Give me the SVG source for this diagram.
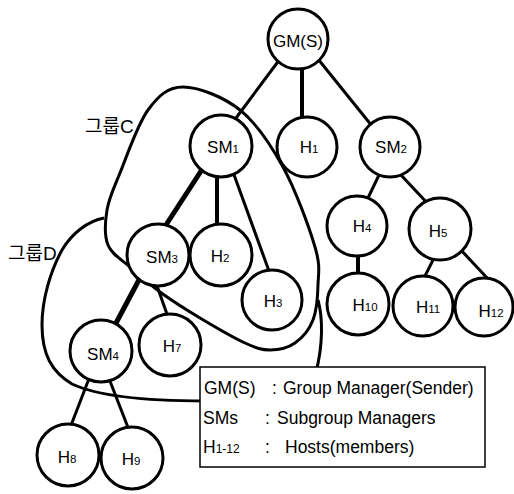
<svg xmlns="http://www.w3.org/2000/svg" width="514" height="494" viewBox="0 0 514 494">
<style>
.e{stroke:#000;stroke-width:3;fill:none;stroke-linecap:butt}
.t{stroke-width:5}
.g{stroke:#000;stroke-width:3;fill:none}
.n circle{fill:#fff;stroke:#000;stroke-width:3}
.n text{font-family:"Liberation Sans",Arial,sans-serif;font-size:17px;text-anchor:middle;fill:#000}
.s{font-size:11.5px}
.lg text{font-family:"Liberation Sans",Arial,sans-serif;font-size:17.5px;fill:#000}
.lb{font-family:"Liberation Sans","Noto Sans CJK KR",sans-serif;font-size:19px;fill:#000}
</style>
<rect width="514" height="494" fill="#fff"/>
<g id="connectors">
<line class="e" x1="280" y1="59" x2="233" y2="122"/>
<line class="e" x1="302" y1="66" x2="302" y2="120" style="stroke-width:4"/>
<line class="e" x1="318" y1="59" x2="372" y2="126"/>
<line class="e t" x1="203" y1="168" x2="164" y2="228"/>
<line class="e" x1="217" y1="175" x2="217" y2="226" style="stroke-width:4"/>
<line class="e" x1="233" y1="172" x2="269" y2="271"/>
<line class="e" x1="380" y1="173" x2="367" y2="200"/>
<line class="e" x1="400" y1="174" x2="430" y2="206"/>
<line class="e" x1="358" y1="254" x2="358" y2="276" style="stroke-width:4"/>
<line class="e" x1="434" y1="258" x2="424" y2="278"/>
<line class="e" x1="460" y1="249" x2="489" y2="280"/>
<line class="e t" x1="141" y1="276" x2="115" y2="325"/>
<line class="e" x1="156" y1="283" x2="168" y2="317"/>
<line class="e" x1="90" y1="376" x2="70" y2="428"/>
<line class="e" x1="108" y1="376" x2="129" y2="430"/>
</g>
<g id="groupC">
<path class="g" d="M183,87 C198.3,87 223.3,96.7 240,110 C256.7,123.3 270.5,144.2 283,167 C295.5,189.8 309.2,227.3 315,247 C320.8,266.7 318.3,272.8 318,285 C317.7,297.2 316.8,310.3 313,320 C309.2,329.7 302.2,338 295,343 C287.8,348 278.3,350 270,350 C261.7,350 256.7,348.3 245,343 C233.3,337.7 214.2,326.5 200,318 C185.8,309.5 171.7,300.5 160,292 C148.3,283.5 138.7,274.8 130,267 C121.3,259.2 111.8,254.5 108,245 C104.2,235.5 105,222 107,210 C109,198 113.2,189.7 120,173 C126.8,156.3 137.5,124.3 148,110 C158.5,95.7 167.7,87 183,87 Z"/>
<text class="lb" x="85" y="133">그룹C</text>
</g>
<g id="groupD">
<path class="g" d="M104,218 C88,221 72,233 62,250 C50,272 42,300 42,325 C42,355 52,372 72,384 C100,397 150,401 205,401"/>
<path class="g" d="M318,300 C323,318 323,345 316,372"/>
<text class="lb" x="8" y="260">그룹D</text>
</g>
<g id="GM" class="n"><circle cx="298" cy="39" r="30"/><text x="298" y="47">GM(S)</text></g>
<g id="SM1" class="n"><circle cx="221" cy="146" r="31"/><text x="223" y="153">SM<tspan class="s">1</tspan></text></g>
<g id="H1" class="n"><circle cx="307" cy="147" r="30"/><text x="309" y="153">H<tspan class="s">1</tspan></text></g>
<g id="SM2" class="n"><circle cx="390" cy="147" r="30"/><text x="391" y="153">SM<tspan class="s">2</tspan></text></g>
<g id="H4" class="n"><circle cx="357" cy="226" r="30"/><text x="362" y="232">H<tspan class="s">4</tspan></text></g>
<g id="H5" class="n"><circle cx="440" cy="229" r="31"/><text x="438" y="237">H<tspan class="s">5</tspan></text></g>
<g id="H10" class="n"><circle cx="358" cy="304" r="31"/><text x="365" y="311">H<tspan class="s">10</tspan></text></g>
<g id="H11" class="n"><circle cx="423" cy="306" r="30"/><text x="428" y="313">H<tspan class="s">11</tspan></text></g>
<g id="H12" class="n"><circle cx="484" cy="307" r="29"/><text x="491" y="317">H<tspan class="s">12</tspan></text></g>
<g id="SM3" class="n"><circle cx="158" cy="255" r="31"/><text x="162" y="263">SM<tspan class="s">3</tspan></text></g>
<g id="H2" class="n"><circle cx="221" cy="255" r="31"/><text x="220" y="262">H<tspan class="s">2</tspan></text></g>
<g id="H3" class="n"><circle cx="272" cy="300" r="30"/><text x="273" y="307">H<tspan class="s">3</tspan></text></g>
<g id="H7" class="n"><circle cx="170" cy="345" r="31"/><text x="172" y="352">H<tspan class="s">7</tspan></text></g>
<g id="SM4" class="n"><circle cx="101" cy="351" r="31"/><text x="103" y="360">SM<tspan class="s">4</tspan></text></g>
<g id="H8" class="n"><circle cx="68" cy="455" r="31"/><text x="67" y="463">H<tspan class="s">8</tspan></text></g>
<g id="H9" class="n"><circle cx="132" cy="458" r="31"/><text x="131" y="465">H<tspan class="s">9</tspan></text></g>
<g id="legend" class="lg">
<rect x="200" y="367" width="285" height="100" fill="#fff" stroke="#000" stroke-width="1.5"/>
<text x="204" y="394">GM(S)</text><text x="272" y="394">:</text><text x="283" y="394">Group Manager(Sender)</text>
<text x="203" y="424">SMs</text><text x="265" y="424">:</text><text x="277" y="424">Subgroup Managers</text>
<text x="203" y="453">H<tspan font-size="12px">1-12</tspan></text><text x="265" y="453">:</text><text x="285" y="453">Hosts(members)</text>
</g>
</svg>
